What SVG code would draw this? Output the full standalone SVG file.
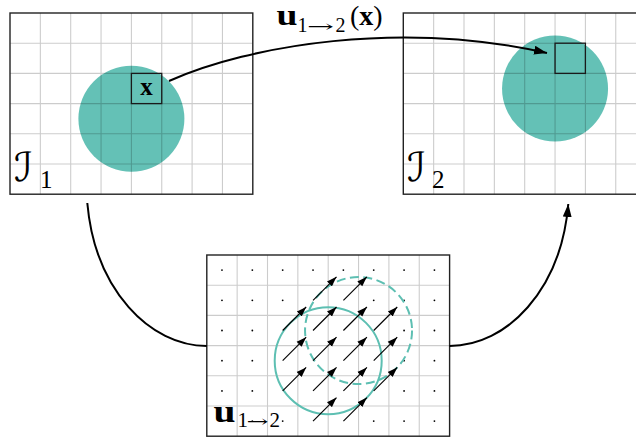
<svg xmlns="http://www.w3.org/2000/svg" width="636" height="437" viewBox="0 0 636 437">
<style>
.bg{fill:#fff}
.grid{fill:none;stroke:#000;stroke-opacity:0.2;stroke-width:1.1}
.border{fill:none;stroke:#222;stroke-width:1.4}
.blob{fill:#64c1b6}
.box{fill:none;stroke:#1a1a1a;stroke-width:1.3}
.ring{fill:none;stroke:#5dbfb2;stroke-width:2}
.dash{stroke-dasharray:9 4.5}
.dot{fill:#000}
.vec{fill:none;stroke:#000;stroke-width:1.15}
.conn{fill:none;stroke:#000;stroke-width:2}
.bold{font-family:"Liberation Serif","Times New Roman",serif;font-weight:bold;fill:#000}
.rm{font-family:"Liberation Serif","Times New Roman",serif;fill:#000}
.arr{font-family:"DejaVu Serif",serif;fill:#000}
.cal{font-family:"DejaVu Serif","DejaVu Sans",serif;fill:#000}
</style>
<defs>
<marker id="ah" markerUnits="userSpaceOnUse" markerWidth="13" markerHeight="9" refX="13" refY="4.5" orient="auto">
<path d="M0,0 L13,4.5 L0,9 z" fill="#000"/>
</marker>
<marker id="sh" markerUnits="userSpaceOnUse" markerWidth="10" markerHeight="8" refX="10" refY="4" orient="auto">
<path d="M0,0.5 L10,4 L0,7.5 z" fill="#000"/>
</marker>
</defs>

<g id="image1">
<rect class="bg" x="10" y="13" width="242.8" height="181.2"/>
<circle class="blob" cx="131.4" cy="118.7" r="53"/>
<path class="grid" d="M40.35,13V194.2M70.7,13V194.2M101.05,13V194.2M131.4,13V194.2M161.75,13V194.2M192.1,13V194.2M222.45,13V194.2M10,43.2H252.8M10,73.4H252.8M10,103.6H252.8M10,133.8H252.8M10,164H252.8"/>
<rect class="box" x="131.4" y="73.4" width="30.35" height="30.2"/>
<text class="bold" x="146.6" y="95" font-size="25" text-anchor="middle">x</text>
<rect class="border" x="10" y="13" width="242.8" height="181.2"/>
<text class="cal" x="14" y="181" font-size="40">ℐ</text>
<text class="rm" x="40" y="188.3" font-size="25">1</text>
</g>

<g id="image2">
<rect class="bg" x="403.3" y="13" width="242.8" height="181.2"/>
<circle class="blob" cx="555.05" cy="88.5" r="53"/>
<path class="grid" d="M433.65,13V194.2M464,13V194.2M494.35,13V194.2M524.7,13V194.2M555.05,13V194.2M585.4,13V194.2M615.75,13V194.2M403.3,43.2H646M403.3,73.4H646M403.3,103.6H646M403.3,133.8H646M403.3,164H646"/>
<rect class="box" x="555.05" y="43.2" width="30.35" height="30.2"/>
<rect class="border" x="403.3" y="13" width="242.8" height="181.2"/>
<text class="cal" x="407" y="181" font-size="40">ℐ</text>
<text class="rm" x="432" y="188.3" font-size="25">2</text>
</g>

<g id="flow">
<rect class="bg" x="206.8" y="255" width="242.8" height="181.2"/>
<path class="grid" d="M237.15,255V436.2M267.5,255V436.2M297.85,255V436.2M328.2,255V436.2M358.55,255V436.2M388.9,255V436.2M419.25,255V436.2M206.8,285.2H449.6M206.8,315.4H449.6M206.8,345.6H449.6M206.8,375.8H449.6M206.8,406H449.6"/>
<g class="dot">
<circle cx="221.98" cy="270.1" r="0.9"/><circle cx="252.33" cy="270.1" r="0.9"/><circle cx="282.68" cy="270.1" r="0.9"/><circle cx="313.03" cy="270.1" r="0.9"/><circle cx="343.38" cy="270.1" r="0.9"/><circle cx="373.73" cy="270.1" r="0.9"/><circle cx="404.08" cy="270.1" r="0.9"/><circle cx="434.43" cy="270.1" r="0.9"/>
<circle cx="221.98" cy="300.3" r="0.9"/><circle cx="252.33" cy="300.3" r="0.9"/><circle cx="282.68" cy="300.3" r="0.9"/><circle cx="373.73" cy="300.3" r="0.9"/><circle cx="404.08" cy="300.3" r="0.9"/><circle cx="434.43" cy="300.3" r="0.9"/>
<circle cx="221.98" cy="330.5" r="0.9"/><circle cx="252.33" cy="330.5" r="0.9"/><circle cx="404.08" cy="330.5" r="0.9"/><circle cx="434.43" cy="330.5" r="0.9"/>
<circle cx="221.98" cy="360.7" r="0.9"/><circle cx="252.33" cy="360.7" r="0.9"/><circle cx="404.08" cy="360.7" r="0.9"/><circle cx="434.43" cy="360.7" r="0.9"/>
<circle cx="221.98" cy="390.9" r="0.9"/><circle cx="252.33" cy="390.9" r="0.9"/><circle cx="404.08" cy="390.9" r="0.9"/><circle cx="434.43" cy="390.9" r="0.9"/>
<circle cx="221.98" cy="421.1" r="0.9"/><circle cx="252.33" cy="421.1" r="0.9"/><circle cx="282.68" cy="421.1" r="0.9"/><circle cx="373.73" cy="421.1" r="0.9"/><circle cx="404.08" cy="421.1" r="0.9"/><circle cx="434.43" cy="421.1" r="0.9"/>
</g>
<circle class="ring" cx="328.2" cy="360.7" r="53.5"/>
<circle class="ring dash" cx="358.55" cy="330.5" r="53.5"/>
<g class="vec" marker-end="url(#sh)">
<path d="M313.03,300.3l23.5,-23.5"/><path d="M343.38,300.3l23.5,-23.5"/>
<path d="M282.68,330.5l23.5,-23.5"/><path d="M313.03,330.5l23.5,-23.5"/><path d="M343.38,330.5l23.5,-23.5"/><path d="M373.73,330.5l23.5,-23.5"/>
<path d="M282.68,360.7l23.5,-23.5"/><path d="M313.03,360.7l23.5,-23.5"/><path d="M343.38,360.7l23.5,-23.5"/><path d="M373.73,360.7l23.5,-23.5"/>
<path d="M282.68,390.9l23.5,-23.5"/><path d="M313.03,390.9l23.5,-23.5"/><path d="M343.38,390.9l23.5,-23.5"/><path d="M373.73,390.9l23.5,-23.5"/>
<path d="M313.03,421.1l23.5,-23.5"/><path d="M343.38,421.1l23.5,-23.5"/>
</g>
<rect class="border" x="206.8" y="255" width="242.8" height="181.2"/>
<text class="bold" x="213.5" y="421.5" font-size="31" textLength="22" lengthAdjust="spacingAndGlyphs">u</text>
<text class="rm" x="237.5" y="426.7" font-size="21">1</text>
<text class="arr" x="246.5" y="426.7" font-size="16" textLength="22" lengthAdjust="spacingAndGlyphs">→</text>
<text class="rm" x="269.5" y="426.7" font-size="21">2</text>
</g>

<g id="connectors">
<path class="conn" d="M169,81 C250,45 400,20 547,53" marker-end="url(#ah)"/>
<path class="conn" d="M87.3,203 C95,290 150,346 206.8,346"/>
<path class="conn" d="M449.6,346 C507,346 561,290 568.3,204" marker-end="url(#ah)"/>
</g>

<g id="label">
<text class="bold" x="276.5" y="25" font-size="29" textLength="21" lengthAdjust="spacingAndGlyphs">u</text>
<text class="rm" x="297.5" y="31.5" font-size="20">1</text>
<text class="arr" x="307" y="31.5" font-size="16" textLength="27" lengthAdjust="spacingAndGlyphs">→</text>
<text class="rm" x="335.5" y="31.5" font-size="20">2</text>
<text class="rm" x="350" y="25" font-size="28">(<tspan class="bold">x</tspan>)</text>
</g>
</svg>
